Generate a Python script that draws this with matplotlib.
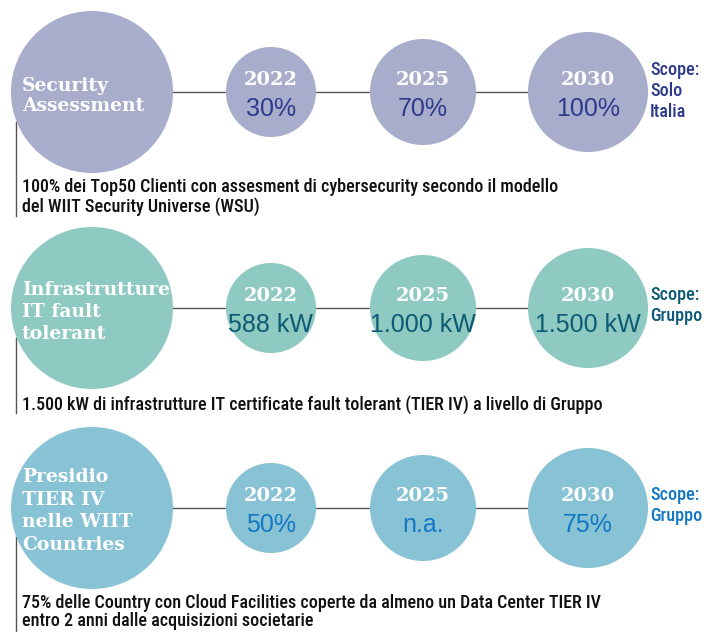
import matplotlib
matplotlib.use("Agg")
import matplotlib.pyplot as plt
from matplotlib.patches import Circle

# ---- data ----
titles = ["Security\nAssessment", "Infrastrutture\nIT fault\ntolerant",
          "Presidio\nTIER IV\nnelle WIIT\nCountries"]
years = ["2022", "2025", "2030"]
values_security = ["30%", "70%", "100%"]
values_infra = ["588 kW", "1.000 kW", "1.500 kW"]
values_presidio = ["50%", "n.a.", "75%"]
scopes = ["Scope:\nSolo\nItalia", "Scope:\nGruppo", "Scope:\nGruppo"]
descriptions = [
    "100% dei Top50 Clienti con assesment di cybersecurity secondo il modello\ndel WIIT Security Universe (WSU)",
    "1.500 kW di infrastrutture IT certificate fault tolerant (TIER IV) a livello di Gruppo",
    "75% delle Country con Cloud Facilities coperte da almeno un Data Center TIER IV\nentro 2 anni dalle acquisizioni societarie",
]
row_values = [values_security, values_infra, values_presidio]

# ---- styling / layout ----
fills = ["#a8adcc", "#8ecac1", "#88c2d5"]
text_colors = ["#2d3a8c", "#0d5a74", "#1477c4"]
row_y = [92, 308, 508]
big_x, big_r = 92, 81
small_x = [271, 423, 588]
small_r = [45, 53, 60]
desc_y = [197, 405, 612]
title_y = [96, 312, 511]
title_ls = [1.15, 1.32, 1.32]
scope_top = [61, 286, 486]
vline = [(122, 216), (338, 413), (537, 632)]

W, H = 706, 632
fig = plt.figure(figsize=(W / 100, H / 100), dpi=100)
ax = fig.add_axes([0, 0, 1, 1])
ax.set_xlim(0, W)
ax.set_ylim(H, 0)
ax.set_aspect("equal")
ax.axis("off")

serif = ["DejaVu Serif"]
sans = ["Liberation Sans", "DejaVu Sans"]
narrow = ["Roboto Condensed", "DejaVu Sans"]

for i in range(3):
    cy = row_y[i]
    # connecting line
    ax.plot([big_x, small_x[-1]], [cy, cy], color="#555555", lw=1.0, zorder=1)
    # big circle
    ax.add_patch(Circle((big_x, cy), big_r, facecolor=fills[i], edgecolor="none", zorder=2))
    ax.text(22, title_y[i], titles[i], ha="left", va="center", color="white",
            fontsize=13.5, fontweight="bold", family=serif, linespacing=title_ls[i], zorder=3)
    # year circles
    for j in range(3):
        ax.add_patch(Circle((small_x[j], cy), small_r[j], facecolor=fills[i],
                            edgecolor="none", zorder=2))
        ax.text(small_x[j], cy - 12, years[j], ha="center", va="center", color="white",
                fontsize=14, fontweight="bold", family=serif, zorder=3)
        ax.text(small_x[j], cy + 17, row_values[i][j], ha="center", va="center",
                color=text_colors[i], fontsize=18, family=sans, zorder=3)
    # scope
    ax.text(650, scope_top[i], scopes[i], ha="left", va="top",
            color=text_colors[i], fontsize=13, fontweight="medium", family=narrow,
            linespacing=1.2, zorder=3)
    # vertical line and description
    ax.plot([16, 16], list(vline[i]), color="#555555", lw=1.0, zorder=1)
    ax.text(22, desc_y[i], descriptions[i], ha="left", va="center", color="#111111",
            fontsize=13, fontweight="medium", family=narrow, linespacing=1.05, zorder=3)

fig.savefig("out.png", dpi=100)
